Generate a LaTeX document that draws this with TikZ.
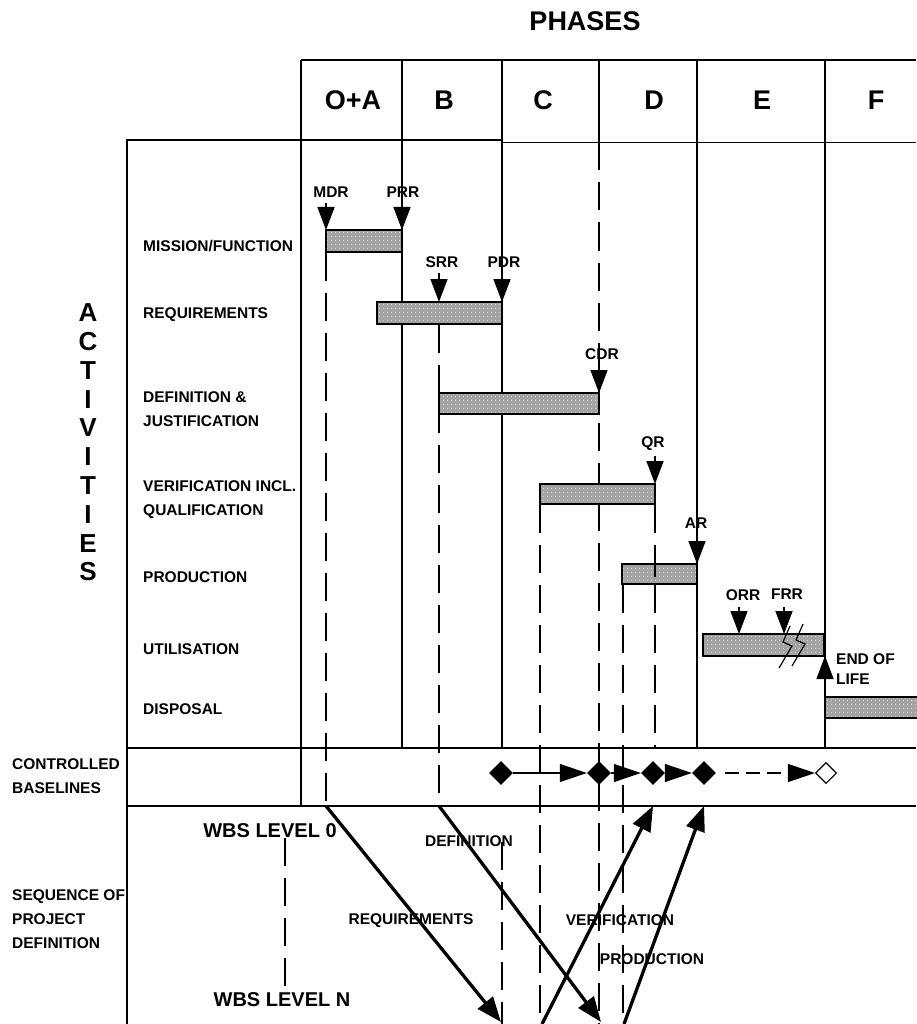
\documentclass[tikz,border=0pt]{standalone}
\usepackage{fontspec}
\setmainfont{Liberation Sans}
\usetikzlibrary{arrows.meta,shapes.geometric,patterns.meta}
\begin{document}
\begin{tikzpicture}[x=1pt,y=-1pt,
  gridline/.style={line width=1.4pt},
  dashline/.style={line width=1.3pt, dash pattern=on 28pt off 12pt},
  bar/.style={preaction={fill=black!36},
              preaction={pattern={Dots[distance=4pt,radius=0.6pt]}, pattern color=white!85!gray},
              draw, line width=1.3pt, inner sep=0pt, outer sep=0pt, anchor=north west},
  ms/.style={line width=1.5pt, -{Triangle[width=17pt,length=23pt]}},
  lbl/.style={font=\fontsize{15.5}{24}\selectfont\bfseries, inner sep=0pt, align=left},
  big/.style={font=\fontsize{27}{30}\selectfont\bfseries, inner sep=0pt},
  wbs/.style={font=\fontsize{20}{24}\selectfont\bfseries, inner sep=0pt},
  fd/.style={diamond, fill=black, inner sep=0pt, minimum size=24pt},
  od/.style={diamond, draw, line width=1.1pt, fill=white, inner sep=0pt, minimum size=21pt},
  bl/.style={line width=1.3pt, -{Triangle[width=18pt,length=27pt]}},
  diag/.style={line width=3.3pt, -{Triangle[width=19pt,length=25pt]}},
  brk/.style={line width=1.2pt}
]
\useasboundingbox (0,0) rectangle (916,1024);

% ---- title and phase header
\node[big] (phases) at (585,21) {PHASES};
\node[big] (pOA) at (353,100) {O+A};
\node[big] (pB) at (444,100) {B};
\node[big] (pC) at (543,100) {C};
\node[big] (pD) at (654,100) {D};
\node[big] (pE) at (762,100) {E};
\node[big] (pF) at (876,100) {F};

% ---- grid
\draw[gridline] (301,60) -- (916,60);
\draw[gridline] (127,1024) -- (127,140) -- (502,140);
\draw[gridline] (502,142.5) -- (916,142.5);
\draw[gridline] (127,748) -- (916,748);
\draw[gridline] (127,806) -- (916,806);
\draw[gridline] (301,60) -- (301,806);
\draw[gridline] (402,60) -- (402,748);
\draw[gridline] (502,60) -- (502,748);
\draw[gridline] (599,60) -- (599,142.5);
\draw[gridline] (697,60) -- (697,748);
\draw[gridline] (825,60) -- (825,748);

% ---- dashed guide lines
\draw[dashline] (599,142.5) -- (599,1024);
\draw[dashline] (326,253) -- (326,806);
\draw[dashline] (439,325) -- (439,806);
\draw[dashline] (540,505) -- (540,1024);
\draw[dashline] (623,585) -- (623,1024);
\draw[dashline] (655,505) -- (655,748);
\draw[dashline] (502,842) -- (502,1024);
\draw[dashline] (285,838) -- (285,990);

% ---- left labels
\node[font=\fontsize{26}{28.8}\selectfont\bfseries, inner sep=0pt, align=center] (act) at (88,442.5)
  {A\\C\\T\\I\\V\\I\\T\\I\\E\\S};
\node[lbl, anchor=west] (lMission) at (143,246.5) {MISSION/FUNCTION};
\node[lbl, anchor=west] (lReq) at (143,315) {REQUIREMENTS};
\node[lbl, anchor=west] (lDef) at (143,409.5) {DEFINITION \&\\JUSTIFICATION};
\node[lbl, anchor=west] (lVer) at (143,499.5) {VERIFICATION INCL.\\QUALIFICATION};
\node[lbl, anchor=west] (lProd) at (143,577) {PRODUCTION};
\node[lbl, anchor=west] (lUtil) at (143,649) {UTILISATION};
\node[lbl, anchor=west] (lDisp) at (143,709) {DISPOSAL};
\node[lbl, anchor=west, font=\fontsize{15.5}{23.5}\selectfont\bfseries] (lCtrl) at (12,776) {CONTROLLED\\BASELINES};
\node[lbl, anchor=west] (lSeq) at (12,919) {SEQUENCE OF\\PROJECT\\DEFINITION};

% ---- bars
\node[bar, minimum width=76pt, minimum height=22pt] (mission) at (326,230) {};
\node[bar, minimum width=125pt, minimum height=22pt] (req) at (377,302) {};
\node[bar, minimum width=160pt, minimum height=21pt] (defn) at (439,393) {};
\node[bar, minimum width=115pt, minimum height=20pt] (verif) at (540,484) {};
\node[bar, minimum width=75pt, minimum height=20pt] (prod) at (622,564) {};
\node[bar, minimum width=121pt, minimum height=22pt] (util) at (703,634) {};
\node[bar, minimum width=110pt, minimum height=21pt] (disp) at (825,697) {};
\draw[line width=1.2pt] (655,564) -- (655,577);

% ---- milestones
\node[lbl] (tMDR) at (331,192) {MDR};
\node[lbl] (tPRR) at (403,192) {PRR};
\node[lbl] (tSRR) at (442,262) {SRR};
\node[lbl] (tPDR) at (504,262) {PDR};
\node[lbl] (tCDR) at (602,354) {CDR};
\node[lbl] (tQR) at (653,444) {QR};
\node[lbl] (tAR) at (696,523) {AR};
\node[lbl] (tORR) at (743,595) {ORR};
\node[lbl] (tFRR) at (787,594) {FRR};
\node[lbl, anchor=west, font=\fontsize{15.5}{19.5}\selectfont\bfseries] (tEOL) at (836,669) {END OF\\LIFE};

\coordinate (mdrS) at (326,203);
\coordinate (prrS) at (402,203);
\coordinate (srrS) at (439,273);
\coordinate (pdrS) at (502,273);
\coordinate (cdrS) at (599,366);
\coordinate (qrS) at (655,456);
\coordinate (arS) at (697,537);
\coordinate (orrS) at (739,607);
\coordinate (frrS) at (784,607);
\coordinate (eolS) at (825,682);
\draw[ms] (mdrS) -- (mission.north west);
\draw[ms] (prrS) -- (mission.north east);
\draw[ms] (srrS) -- (srrS |- req.north);
\draw[ms] (pdrS) -- (req.north east);
\draw[ms] (cdrS) -- (defn.north east);
\draw[ms] (qrS) -- (verif.north east);
\draw[ms] (arS) -- (prod.north east);
\draw[ms] (orrS) -- (orrS |- util.north);
\draw[ms] (frrS) -- (frrS |- util.north);
\draw[ms] (eolS) -- (eolS |- util.south);

% break marks on utilisation bar
\draw[brk] (790,626) -- (783,642) -- (792,646) -- (779,668);
\draw[brk] (803,624) -- (796,640) -- (805,644) -- (792,666);

% ---- controlled baselines
\node[fd] (b1) at (501,773) {};
\node[fd] (b2) at (599,773) {};
\node[fd] (b3) at (653,773) {};
\node[fd] (b4) at (704,773) {};
\node[od] (b5) at (826,773) {};
\draw[bl] (b1) -- (b2);
\draw[bl] (b2) -- (b3);
\draw[bl] (b3) -- (b4);
\draw[bl, dash pattern=on 14pt off 7pt, shorten <=9pt] (b4) -- (b5);

% ---- sequence of project definition
\node[wbs] (wbs0) at (270,831) {WBS LEVEL 0};
\node[wbs] (wbsN) at (282,1000) {WBS LEVEL N};
\node[lbl] (sDef) at (469,841) {DEFINITION};
\node[lbl] (sReq) at (411,921) {REQUIREMENTS};
\node[lbl] (sVer) at (620,920) {VERIFICATION};
\node[lbl] (sProd) at (652,959) {PRODUCTION};

\coordinate (dReqS) at (326,806);
\coordinate (dReqE) at (501,1022);
\coordinate (dDefS) at (439,806);
\coordinate (dDefE) at (601,1022);
\coordinate (dVerS) at (542,1024);
\coordinate (dProdS) at (624,1024);
\draw[diag] (dReqS) -- (dReqE);
\draw[diag] (dDefS) -- (dDefE);
\draw[diag] (dVerS) -- (b3.south |- 0,806);
\draw[diag] (dProdS) -- (b4.south |- 0,806);
\end{tikzpicture}
\end{document}
